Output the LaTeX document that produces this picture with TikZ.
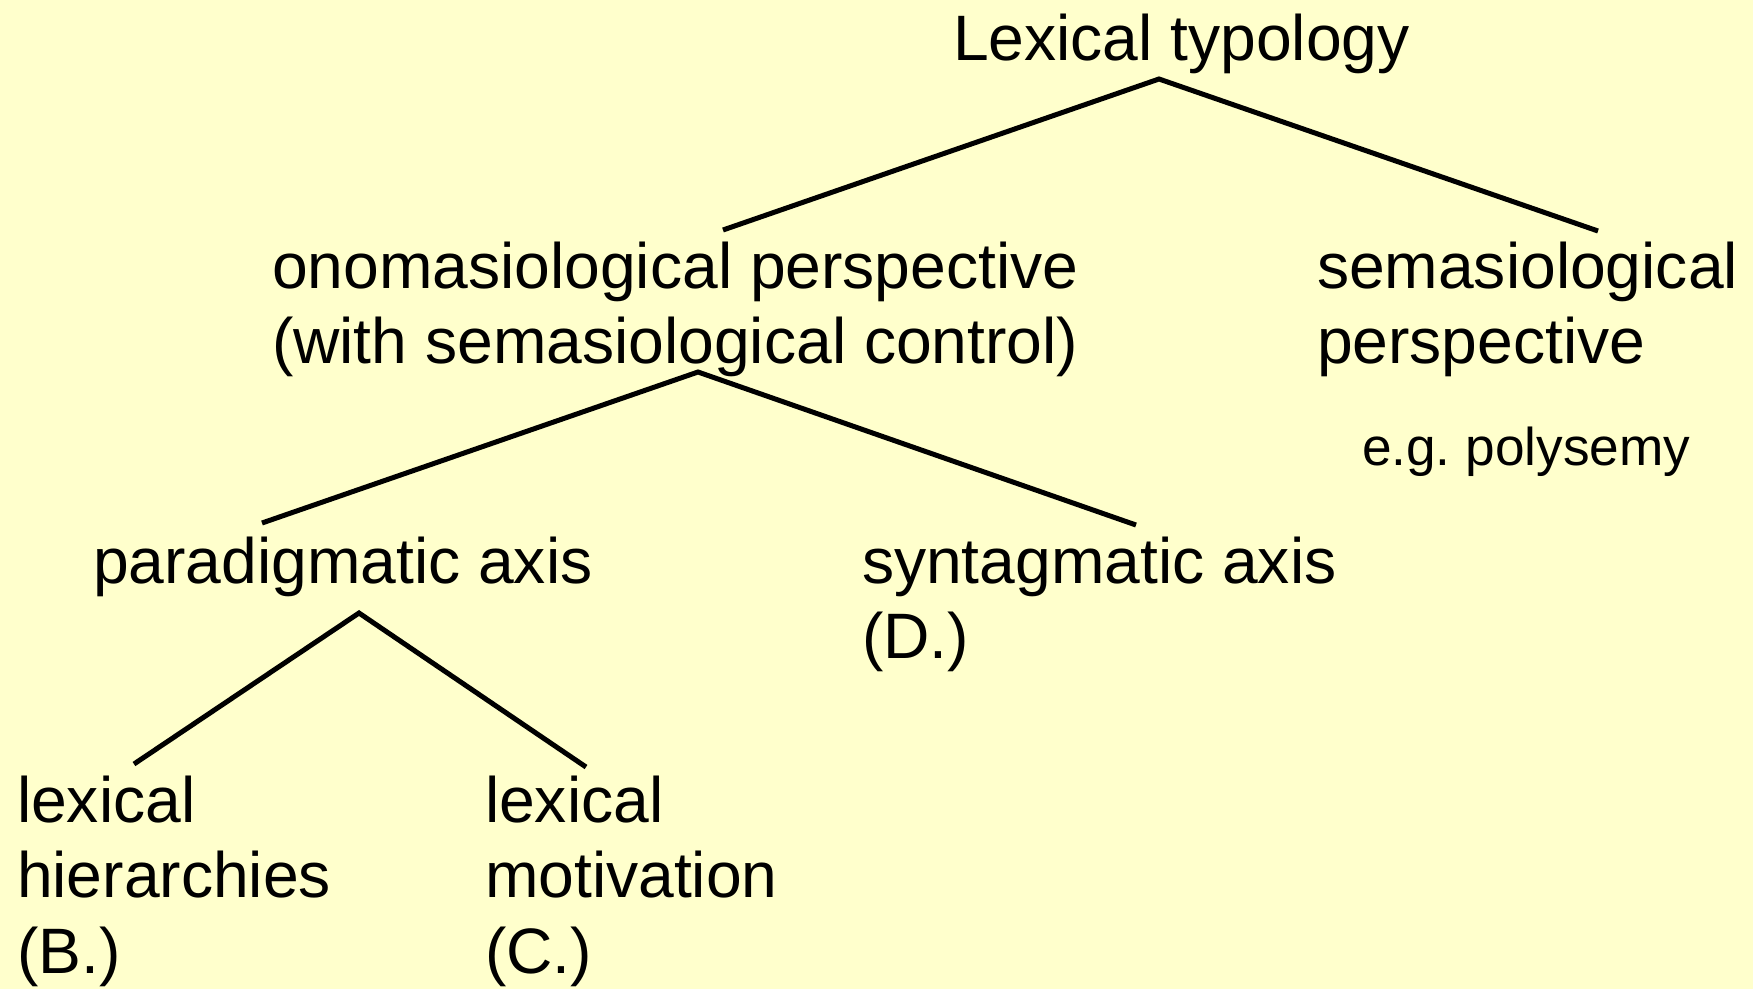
\documentclass[tikz,border=0pt]{standalone}
\usepackage{fontspec}
\setmainfont{Liberation Sans}
\frenchspacing
\definecolor{paper}{HTML}{FFFFCC}
\newcommand{\bigtxt}{\fontsize{64.2}{75.5}\selectfont}
\newcommand{\smalltxt}{\fontsize{53.2}{62}\selectfont}
\newcommand{\stack}[1]{\begin{tabular}[t]{@{}l@{}}#1\end{tabular}}
\begin{document}
\begin{tikzpicture}[x=1pt,y=-1pt,
  label/.style={anchor=base west,inner sep=0pt,outer sep=0pt,font=\bigtxt},
  note/.style={anchor=base west,inner sep=0pt,outer sep=0pt,font=\smalltxt},
  branch/.style={line width=5pt,line join=miter,line cap=butt}]
  \fill[paper] (0,0) rectangle (1753,989);
  \useasboundingbox (0,0) rectangle (1753,989);

  % labels
  \node[label] (root) at (953,60) {Lexical typology};
  \node[label] (ono)  at (272,288) {\stack{onomasiological perspective\\(with semasiological control)}};
  \node[label] (sem)  at (1317,288) {\stack{semasiological\\perspective}};
  \node[note]  (poly) at (1362,465) {e.g.\ polysemy};
  \node[label] (para) at (93,583) {\stack{paradigmatic axis}};
  \node[label] (synt) at (862,583) {\stack{syntagmatic axis\\(D.)}};
  \node[label] (hier) at (17,822) {\stack{lexical\\hierarchies\\(B.)}};
  \node[label] (moti) at (485,822) {\stack{lexical\\motivation\\(C.)}};

  % branch points and branch ends
  \coordinate (root-fork) at (1159,79);
  \coordinate (ono-end)   at (723,230);
  \coordinate (sem-end)   at (1598,231);
  \coordinate (ono-fork)  at (698,372);
  \coordinate (para-end)  at (262,523);
  \coordinate (synt-end)  at (1136,525);
  \coordinate (para-fork) at (359,613);
  \coordinate (hier-end)  at (134,764);
  \coordinate (moti-end)  at (586,767);

  % tree branches
  \draw[branch] (ono-end) -- (root-fork) -- (sem-end);
  \draw[branch] (para-end) -- (ono-fork) -- (synt-end);
  \draw[branch] (hier-end) -- (para-fork) -- (moti-end);
\end{tikzpicture}
\end{document}
